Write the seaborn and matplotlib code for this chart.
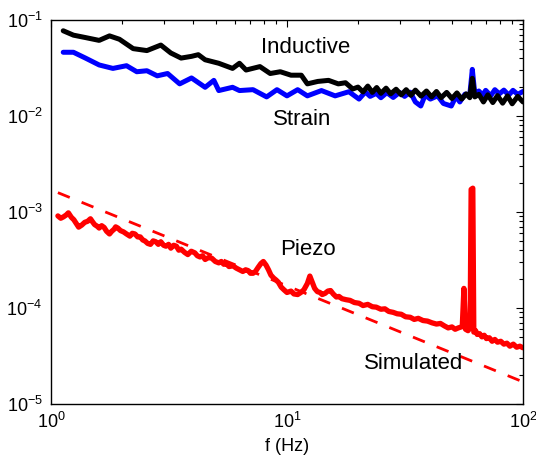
import matplotlib
matplotlib.use("Agg")
import matplotlib.pyplot as plt
import seaborn as sns
import numpy as np
from matplotlib.ticker import LogLocator

# Spectral densities of three sensors versus frequency
freq_inductive = [1.127, 1.245, 1.40, 1.60, 1.77, 1.95, 2.23, 2.55, 2.92, 3.22, 3.56,
                  3.94, 4.21, 4.50, 5.14, 5.88, 6.29, 6.71, 7.68, 8.49, 9.37, 10.4,
                  11.5, 12.2, 13.5, 15.0, 16.5, 17.7, 19.0,
                  20, 21, 22, 23, 24, 25, 26.3, 27.5, 29, 30.5, 32, 33.5, 35, 37, 39,
                  41, 43, 45, 47.5, 50, 52.5, 55, 57.5, 59.5, 61, 62.5, 65, 68, 71,
                  74.5, 78, 82, 86, 90, 95, 100]
inductive = [0.0772, 0.0695, 0.0656, 0.0613, 0.0683, 0.0630, 0.0503, 0.0480, 0.0548,
             0.0453, 0.0401, 0.0418, 0.0435, 0.0385, 0.0354, 0.0313, 0.0354, 0.0301,
             0.0327, 0.0277, 0.0289, 0.0266, 0.0266, 0.0216, 0.0229, 0.0235, 0.0216,
             0.0222, 0.0191,
             0.0200, 0.0178, 0.0205, 0.0176, 0.0198, 0.0172, 0.0195, 0.0170, 0.0190,
             0.0166, 0.0188, 0.0164, 0.0186, 0.0161, 0.0182, 0.0158, 0.0180, 0.0155,
             0.0176, 0.0152, 0.0174, 0.0150, 0.0170, 0.0155, 0.0247, 0.0158, 0.0168,
             0.0140, 0.0166, 0.0138, 0.0163, 0.0136, 0.0162, 0.0134, 0.0160, 0.0140]

freq_strain = [1.127, 1.245, 1.40, 1.60, 1.83, 2.09, 2.31, 2.55, 2.82, 3.12, 3.51, 3.94,
               4.50, 4.90, 5.14, 5.88, 6.29, 7.18, 8.20, 9.07, 10.0, 11.1, 12.2, 14.0,
               16.0, 18.3,
               20.2, 21.5, 22.5, 23.9, 25, 26.5, 28.2, 30, 31.5, 33.3, 35, 36.9, 38.5,
               40.5, 43.5, 46, 49.7, 52, 54, 56.8, 59.5, 61, 62.5, 65, 67.5, 69.5, 73,
               76, 79.4, 83, 87, 90.7, 95, 100]
strain = [0.0461, 0.0461, 0.0401, 0.0340, 0.0313, 0.0334, 0.0289, 0.0296, 0.0262, 0.0277,
          0.0216, 0.0249, 0.0199, 0.0235, 0.0184, 0.0199, 0.0184, 0.0188, 0.0158, 0.0188,
          0.0162, 0.0188, 0.0162, 0.0184, 0.0162, 0.0179,
          0.0150, 0.0178, 0.0160, 0.0172, 0.0155, 0.0175, 0.0156, 0.0176, 0.0160, 0.0177,
          0.0140, 0.0127, 0.0165, 0.0150, 0.0162, 0.0135, 0.0127, 0.0160, 0.0140, 0.0169,
          0.0165, 0.0306, 0.0170, 0.0182, 0.0165, 0.0185, 0.0162, 0.0188, 0.0170, 0.0186,
          0.0165, 0.0185, 0.0168, 0.0180]

freq_piezo = [1.07, 1.10, 1.13, 1.16, 1.185, 1.22, 1.25, 1.28, 1.31, 1.35, 1.39, 1.43,
              1.47, 1.50, 1.53, 1.57, 1.60, 1.64, 1.68, 1.72, 1.77, 1.81, 1.85, 1.88,
              1.92, 1.97, 2.03, 2.09, 2.16, 2.21, 2.27, 2.33, 2.39, 2.45, 2.50, 2.57,
              2.64, 2.71, 2.78, 2.85, 2.92, 3.0, 3.07, 3.15, 3.22, 3.31, 3.40, 3.48,
              3.56, 3.68, 3.80, 3.93, 4.07, 4.17, 4.28, 4.39, 4.50, 4.65, 4.80, 4.97,
              5.14, 5.27, 5.40, 5.54, 5.68, 5.90, 6.10, 6.30, 6.50, 6.68, 6.85, 7.0,
              7.18, 7.35, 7.55, 7.75, 7.94, 8.15, 8.35, 8.55, 8.78, 9.0, 9.2, 9.45,
              9.70, 10.0, 10.4, 10.7, 11.1, 11.45, 11.8, 12.2, 12.5, 12.8, 13.1, 13.45,
              13.8, 14.1, 14.5, 14.9, 15.3, 15.7, 16.2, 16.6, 17.1, 17.8, 18.5, 19.3,
              20.2, 21, 22, 23, 23.9, 25, 26, 27, 28.2, 29.3, 30.5, 31.8, 33.3, 34.6,
              36, 37.7, 39.4, 41.2, 43, 44.7, 46.5, 48.2, 50, 51.6, 53.2, 55.3, 56.2,
              57.1, 58.5, 59.7, 60.3, 61.3, 61.9, 63, 64, 65.5, 67, 68.5, 70, 72, 74,
              76, 78, 80.5, 83, 85.5, 88, 91, 94, 97, 100]
piezo = [9.1e-4, 8.6e-4, 8.9e-4, 9.3e-4, 9.8e-4, 8.8e-4, 8.3e-4, 7.6e-4, 6.95e-4, 7.3e-4,
         7.8e-4, 8.0e-4, 8.5e-4, 7.9e-4, 7.4e-4, 7.1e-4, 6.8e-4, 7.2e-4, 6.9e-4, 6.3e-4,
         5.9e-4, 6.3e-4, 6.6e-4, 7.0e-4, 6.8e-4, 6.4e-4, 6.2e-4, 5.9e-4, 5.6e-4, 6.0e-4,
         5.9e-4, 5.5e-4, 5.5e-4, 5.1e-4, 5.0e-4, 4.7e-4, 4.6e-4, 5.0e-4, 4.9e-4, 4.6e-4,
         4.9e-4, 4.5e-4, 4.4e-4, 4.6e-4, 4.2e-4, 4.5e-4, 4.4e-4, 4.0e-4, 4.1e-4, 3.8e-4,
         3.6e-4, 3.9e-4, 3.75e-4, 3.5e-4, 3.4e-4, 3.5e-4, 3.2e-4, 3.35e-4, 3.3e-4, 3.05e-4,
         2.95e-4, 3.05e-4, 2.85e-4, 2.9e-4, 2.7e-4, 2.75e-4, 2.6e-4, 2.5e-4, 2.4e-4, 2.5e-4,
         2.45e-4, 2.3e-4, 2.3e-4, 2.4e-4, 2.65e-4, 2.9e-4, 3.05e-4, 2.8e-4, 2.5e-4, 2.2e-4,
         2.05e-4, 1.95e-4, 1.85e-4, 1.65e-4, 1.55e-4, 1.45e-4, 1.5e-4, 1.4e-4, 1.38e-4,
         1.45e-4, 1.55e-4, 1.8e-4, 2.15e-4, 1.85e-4, 1.6e-4, 1.48e-4, 1.45e-4, 1.38e-4,
         1.42e-4, 1.5e-4, 1.52e-4, 1.4e-4, 1.3e-4, 1.32e-4, 1.25e-4, 1.22e-4, 1.2e-4,
         1.14e-4, 1.12e-4, 1.06e-4, 1.09e-4, 1.03e-4, 1.02e-4, 9.7e-5, 9.8e-5, 9.2e-5,
         9.0e-5, 8.7e-5, 8.6e-5, 8.1e-5, 8.0e-5, 7.6e-5, 7.8e-5, 7.4e-5, 7.3e-5, 7.0e-5,
         6.8e-5, 6.9e-5, 6.5e-5, 6.2e-5, 6.35e-5, 6.0e-5, 6.2e-5, 6.4e-5, 1.6e-4, 6.0e-5,
         5.8e-5, 6.2e-5, 1.72e-3, 1.77e-3, 5.6e-5, 5.8e-5, 5.3e-5, 5.4e-5, 5.0e-5, 5.2e-5,
         4.8e-5, 4.9e-5, 4.5e-5, 4.7e-5, 4.4e-5, 4.5e-5, 4.2e-5, 4.3e-5, 4.0e-5, 4.2e-5,
         3.9e-5, 4.0e-5, 3.85e-5]

freq_simulated = [1.07, 100]
simulated = [1.59e-3, 1.70e-5]

sns.set_style("white")
plt.rcParams["font.family"] = ["Liberation Sans", "DejaVu Sans"]
plt.rcParams["text.color"] = "black"
plt.rcParams["axes.labelcolor"] = "black"
plt.rcParams["mathtext.fontset"] = "custom"
plt.rcParams["mathtext.rm"] = "Liberation Sans"
plt.rcParams["mathtext.it"] = "Liberation Sans:italic"
plt.rcParams["mathtext.bf"] = "Liberation Sans:bold"

fig = plt.figure(figsize=(5.36, 4.68), dpi=100)
ax = fig.add_axes([0.0951, 0.1368, 0.8806, 0.8205])

sns.lineplot(x=freq_simulated, y=simulated, ax=ax, color="#ff0000", lw=2.0,
             estimator=None, sort=False)
ax.lines[-1].set_dashes((4.6, 4.6))
sns.lineplot(x=freq_strain, y=strain, ax=ax, color="#0000ff", lw=3.6,
             estimator=None, sort=False)
sns.lineplot(x=freq_inductive, y=inductive, ax=ax, color="#000000", lw=3.6,
             estimator=None, sort=False)
sns.lineplot(x=freq_piezo, y=piezo, ax=ax, color="#ff0000", lw=3.8,
             estimator=None, sort=False)
for ln in ax.lines:
    ln.set_solid_joinstyle("round")
    ln.set_solid_capstyle("round")

ax.set_xscale("log")
ax.set_yscale("log")
ax.set_xlim(1, 100)
ax.set_ylim(1e-5, 1e-1)

ax.xaxis.set_major_locator(LogLocator(base=10, numticks=10))
ax.yaxis.set_major_locator(LogLocator(base=10, numticks=10))
ax.xaxis.set_minor_locator(LogLocator(base=10, subs=np.arange(2, 10), numticks=20))
ax.yaxis.set_minor_locator(LogLocator(base=10, subs=np.arange(2, 10), numticks=20))

ax.tick_params(which="both", direction="in", top=True, right=True, colors="black",
               labelsize=13, width=0.8)
ax.tick_params(which="major", length=5, pad=6)
ax.tick_params(which="minor", length=3)
for sp in ax.spines.values():
    sp.set_color("black")
    sp.set_linewidth(1.0)

ax.set_xlabel("f (Hz)", fontsize=13, labelpad=4, color="black")
ax.set_ylabel("")

ax.text(12.0, 0.0523, "Inductive", fontsize=16, ha="center", va="center", color="black")
ax.text(11.6, 9.1e-3, "Strain", fontsize=16, ha="center", va="center", color="black")
ax.text(12.3, 4.07e-4, "Piezo", fontsize=16, ha="center", va="center", color="black")
ax.text(34.5, 2.62e-5, "Simulated", fontsize=16, ha="center", va="center", color="black")

fig.savefig("out.png", dpi=100)
